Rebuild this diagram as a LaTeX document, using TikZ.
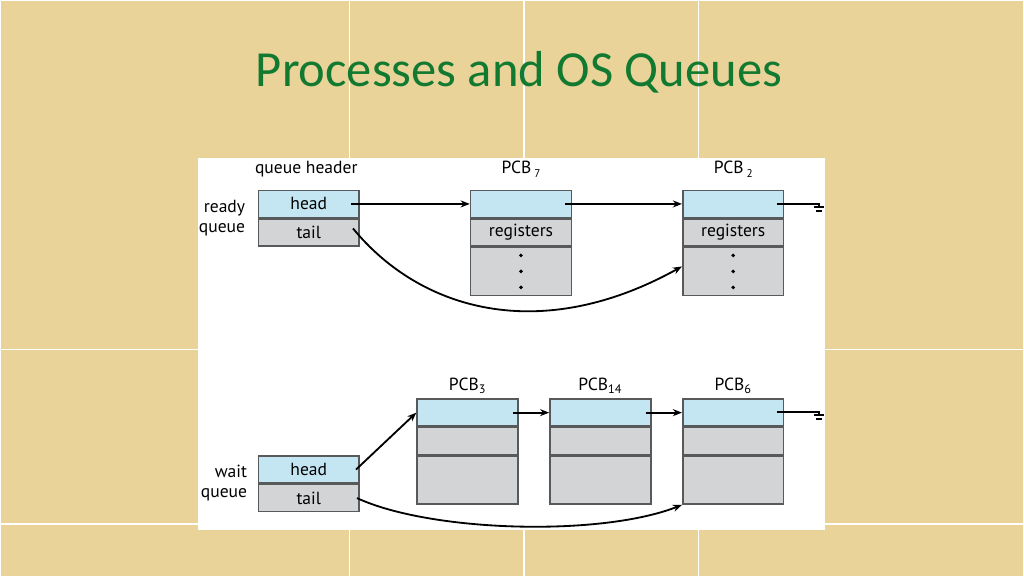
\documentclass[tikz,border=0pt]{standalone}
\usepackage{fontspec}
\setmainfont{PT Sans}
\newfontfamily\titlefont{Carlito}
\usetikzlibrary{positioning,arrows.meta,calc}

\definecolor{papyrus}{RGB}{234,211,153}
\definecolor{titlegreen}{RGB}{18,122,48}
\definecolor{cellblue}{RGB}{196,230,243}
\definecolor{cellgray}{RGB}{210,212,214}
\definecolor{cellline}{RGB}{88,89,91}

\tikzset{
  blueslot/.style={draw=cellline,fill=cellblue,line width=1.1pt,minimum width=2.525cm,minimum height=0.675cm,inner sep=0pt,font=\fontsize{12.5}{13}\selectfont},
  grayslot/.style={blueslot,fill=cellgray},
  bigslot/.style={grayslot,minimum height=1.2cm},
  link/.style={line width=1.3pt,-{Stealth[length=6.5pt,width=5pt]}},
  wire/.style={line width=1.3pt},
  caption/.style={font=\fontsize{12.5}{14.5}\selectfont,inner sep=0pt}
}

\begin{document}
\begin{tikzpicture}[x=0.025cm,y=-0.025cm]

        % background
        \fill[papyrus] (0,0) rectangle (1024,576);
        \draw[white,line width=1pt] (349,0) -- (349,576) (524,0) -- (524,576) (699,0) -- (699,576);
        \draw[white,line width=1pt] (0,349) -- (1024,349) (0,524) -- (1024,524);
        \fill[white] (198,158) rectangle (825,530);
        \useasboundingbox (0,0) rectangle (1024,576);

        \node[titlegreen,inner sep=0pt] (title) at (519,72) {\titlefont\fontsize{36}{40}\selectfont Processes and OS Queues};

        % ready queue
        \node[blueslot] (rhead) at (308.5,203.5) {head};
        \node[grayslot,below=0pt of rhead] (rtail) {tail};
        \node[blueslot] (p7) at (521,203.5) {};
        \node[grayslot,below=0pt of p7] (p7r) {registers};
        \node[bigslot,below=0pt of p7r] (p7d) {};
        \node[blueslot] (p2) at (733.5,203.5) {};
        \node[grayslot,below=0pt of p2] (p2r) {registers};
        \node[bigslot,below=0pt of p2r] (p2d) {};

        \begin{scope}[every node/.style={caption}]
          \node (qh) at (306,169) {queue header};
          \node (l7) at (521,169) {PCB\,\raisebox{-0.4ex}{\footnotesize 7}};
          \node (l2) at (733.5,169) {PCB\,\raisebox{-0.4ex}{\footnotesize 2}};
          \node[align=right,anchor=east] (rq) at (245,218) {ready\\queue};
        \end{scope}

        \foreach \p in {p7d,p2d}
          \foreach \k in {-1,0,1}
            \fill ($(\p.center)+(0,\k*16)$) circle (1.4pt);

        \draw[link] ($(rhead.east)+(-9,0)$) -- (p7.west);
        \draw[link] ($(p7.east)+(-7,0)$) -- (p2.west);
        \draw[wire] ($(p2.east)+(-7,0)$) -- ++(42,0) coordinate (g1) -- ++(0,3);
        \draw[wire] ($(g1)+(-5,3)$) -- ++(10,0);
        \draw[wire] ($(g1)+(-3,7)$) -- ++(6,0);
        \draw[link] ($(rtail.east)+(-7,-4)$) .. controls (420,310) and (540,345) .. ($(p2d.west)+(0,-5)$);

        % wait queue
        \node[blueslot] (whead) at (308.5,469.5) {head};
        \node[grayslot,below=0pt of whead] (wtail) {tail};
        \node[blueslot] (p3) at (467.5,412.5) {};
        \node[grayslot,below=0pt of p3] (p3m) {};
        \node[bigslot,below=0pt of p3m] (p3d) {};
        \node[blueslot] (p14) at (600.5,412.5) {};
        \node[grayslot,below=0pt of p14] (p14m) {};
        \node[bigslot,below=0pt of p14m] (p14d) {};
        \node[blueslot] (p6) at (733.5,412.5) {};
        \node[grayslot,below=0pt of p6] (p6m) {};
        \node[bigslot,below=0pt of p6m] (p6d) {};

        \begin{scope}[every node/.style={caption}]
          \node (l3) at (467.5,386) {PCB\textsubscript{3}};
          \node (l14) at (600.5,386) {PCB\textsubscript{14}};
          \node (l6) at (733.5,386) {PCB\textsubscript{6}};
          \node[align=right,anchor=east] (wq) at (247,483) {wait\\queue};
        \end{scope}

        \draw[link] ($(whead.east)+(-4,0)$) -- (p3.west);
        \draw[link] ($(p3.east)+(-6,0)$) -- (p14.west);
        \draw[link] ($(p14.east)+(-6,0)$) -- (p6.west);
        \draw[wire] ($(p6.east)+(-7,-1)$) -- ++(42,0) coordinate (g2) -- ++(0,3);
        \draw[wire] ($(g2)+(-5,3)$) -- ++(10,0);
        \draw[wire] ($(g2)+(-3,7)$) -- ++(6,0);
        \draw[link] ($(wtail.east)+(-3,0)$) .. controls (430,532) and (600,537) .. (p6d.south west);

\end{tikzpicture}
\end{document}
